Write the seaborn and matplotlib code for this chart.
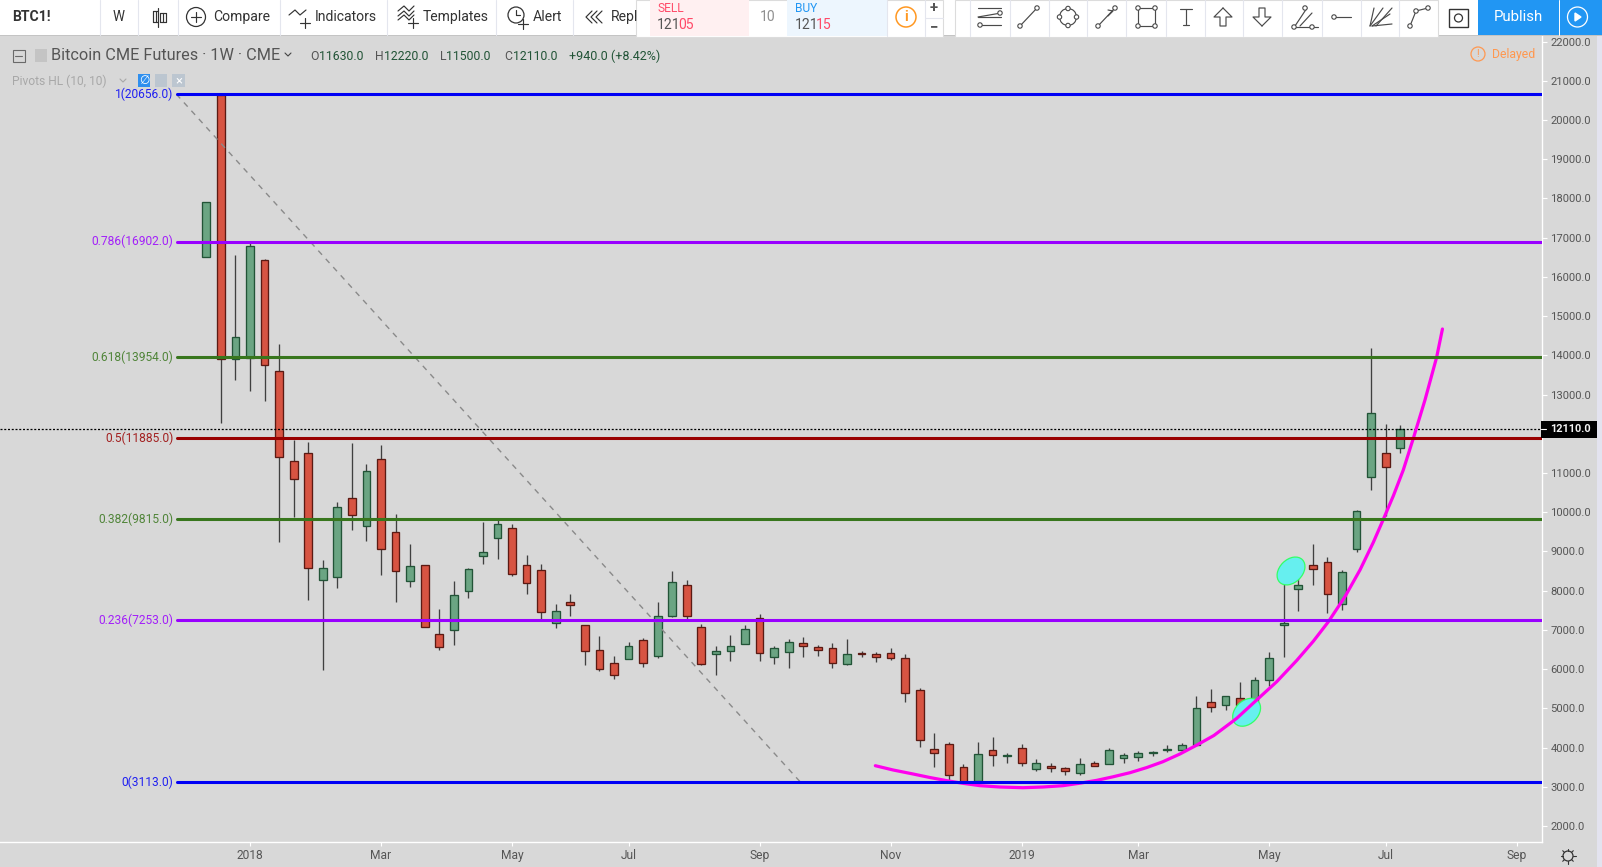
"""Bitcoin CME Futures, weekly candles with Fibonacci levels (TradingView screen)."""
import matplotlib
matplotlib.use('Agg')
import matplotlib.pyplot as plt
import numpy as np
import pandas as pd
import seaborn as sns
from matplotlib.collections import EllipseCollection
from matplotlib.patches import Circle, Rectangle

# -----------------------------------------------------
# DATA
# -----------------------------------------------------
opens = [16515, 20650, 13900, 13930, 16420, 13590, 11300, 11500, 8280, 8360, 10360, 9660, 11350, 9490, 8250,
         8650, 6890, 7000, 8000, 8890, 9350, 9590, 8650, 8520, 7180, 7700, 7120, 6480, 6150, 6270,
         6740, 6340, 7360, 8140, 7070, 6390, 6470, 6650, 7300, 6320, 6440, 6660, 6560, 6530, 6140,
         6400, 6380, 6400, 6280, 5480, 3960, 4080, 3500, 3150, 3930, 3790, 3980, 3460, 3530, 3470,
         3360, 3600, 3590, 3740, 3770, 3870, 3950, 3950, 4070, 5150, 5090, 5260, 5080, 5730, 7130,
         8050, 8650, 8720, 7670, 9050, 10910, 11500, 11630]
highs = [17900, 20650, 16560, 16860, 16460, 14290, 11840, 11790, 8780, 10260, 11760, 11230, 11710, 9960, 9190,
         8650, 7530, 8250, 8580, 9750, 9850, 9700, 8910, 8680, 7660, 7920, 7120, 6840, 6330, 6690,
         6790, 7710, 8490, 8270, 7150, 6580, 6870, 7120, 7400, 6580, 6770, 6820, 6610, 6670, 6770,
         6460, 6440, 6540, 6380, 5520, 4370, 4140, 3580, 4140, 4270, 3860, 4090, 3710, 3610, 3500,
         3730, 3660, 3990, 3860, 3910, 3910, 4060, 4120, 5310, 5490, 5310, 5670, 5800, 6440, 8440,
         8370, 9190, 8850, 8520, 10060, 14190, 12250, 12220]
lows = [16515, 12280, 13380, 13100, 12840, 9240, 9890, 7760, 5990, 8070, 9550, 9270, 8400, 7710, 8090,
        7080, 6490, 6620, 7810, 8680, 8810, 8370, 7920, 7270, 7050, 7350, 6100, 5950, 5750, 6270,
        6050, 6290, 7330, 7270, 6100, 5850, 6210, 6650, 6210, 6130, 6030, 6310, 6330, 6030, 6100,
        6310, 6180, 6230, 5160, 4010, 3500, 3140, 3120, 3140, 3540, 3610, 3530, 3400, 3380, 3300,
        3300, 3540, 3590, 3610, 3660, 3790, 3890, 3890, 4070, 4910, 4960, 4930, 5080, 5570, 6320,
        7490, 8140, 7440, 7510, 8990, 10570, 9900, 11500]
closes = [17900, 13900, 14460, 16800, 13760, 11420, 10860, 8590, 8570, 10130, 9940, 11040, 9050, 8510, 8620,
          7080, 6570, 7880, 8550, 8980, 9690, 8430, 8200, 7460, 7470, 7640, 6470, 6010, 5860, 6580,
          6160, 7350, 8210, 7360, 6140, 6450, 6580, 7020, 6420, 6530, 6680, 6600, 6500, 6160, 6380,
          6380, 6320, 6290, 5400, 4180, 3870, 3310, 3130, 3830, 3820, 3810, 3610, 3600, 3490, 3410,
          3570, 3540, 3930, 3800, 3850, 3890, 3960, 4060, 5000, 5040, 5310, 5090, 5720, 6280, 7170,
          8140, 8560, 7920, 8470, 10020, 12520, 11160, 12110]

fib_ratios = ['1', '0.786', '0.618', '0.5', '0.382', '0.236', '0']
fib_prices = [20656.0, 16902.0, 13954.0, 11885.0, 9815.0, 7253.0, 3113.0]
fib_colors = ['#0000f5', '#9900ff', '#38761d', '#990000', '#38761d', '#9900ff', '#0000f5']

# weekly bars: 0 is the week of 2017-12-11
month_bars = [3, 12, 21, 29, 38, 47, 56, 64, 73, 81, 90]
month_labels = ['2018', 'Mar', 'May', 'Jul', 'Sep', 'Nov', '2019', 'Mar', 'May', 'Jul', 'Sep']
price_ticks = list(range(2000, 22001, 1000))

trend_bars = [-2.05, 40.82]
trend_prices = [20656, 3113]

curve_bars = [45.95, 47.17, 48.54, 49.7, 50.87, 51.97, 53.14, 54.5, 56.09, 57.46, 58.84, 60.0, 61.17, 62.27,
              63.44, 64.6, 65.7, 66.87, 68.04, 69.2, 70.3, 70.77, 72.14, 73.52, 74.89, 76.03, 77.06, 78.21,
              79.24, 80.15, 80.84, 81.53, 82.21, 82.9, 83.7, 84.5, 84.9]
curve_prices = [3537, 3428, 3326, 3236, 3155, 3088, 3028, 2994, 2976, 2994, 3028, 3091, 3165, 3254,
                3359, 3491, 3639, 3836, 4065, 4307, 4613, 4745, 5212, 5680, 6220, 6710, 7205, 7850,
                8530, 9230, 9819, 10420, 11076, 11884, 12861, 13949, 14672]

marker_bars = [74.5, 71.45]
marker_prices = [8502, 4899]

last_price = 12110

W, H = 1602, 867
BG = '#d8d8d8'
UP, UP_EDGE = '#6ba583', '#225437'
DOWN, DOWN_EDGE = '#d75442', '#5b1a13'
WICK = '#404040'
TXT = '#555555'
BAR_PX = 14.56
FIRST_BAR_PX = 206.3
AXIS_X, AXIS_Y = 1541.5, 841.5
TOP_Y = 36


def px(size):
    """Font size in points from a size in pixels (dpi 100)."""
    return size * 0.72


# -----------------------------------------------------
# CHART
# -----------------------------------------------------

def draw_candles(ax, df):
    ax.vlines(df['bar'], df['low'], df['high'], color=WICK, linewidth=0.95, zorder=1)
    for rising, face, edge in [(True, UP, UP_EDGE), (False, DOWN, DOWN_EDGE)]:
        sub = df[(df['close'] >= df['open']) == rising]
        base = sub[['open', 'close']].min(axis=1)
        sns.barplot(x=sub['bar'], y=(sub['close'] - sub['open']).abs(), bottom=base, native_scale=True,
                    width=0.53, color=face, saturation=1, edgecolor=edge, linewidth=0.95,
                    errorbar=None, zorder=2, ax=ax)


def draw_levels(ax):
    start = (176.7 - FIRST_BAR_PX) / BAR_PX
    end = (AXIS_X - FIRST_BAR_PX) / BAR_PX
    for ratio, price, color in zip(fib_ratios, fib_prices, fib_colors):
        sns.lineplot(x=[start, end], y=[price, price], color=color, linewidth=2.2, zorder=5, ax=ax)
        ax.annotate(f'{ratio}({price:.1f})', xy=(start, price), xytext=(-2.2, 0), textcoords='offset points',
                    ha='right', va='center', color=color, fontsize=px(12), alpha=0.85)
    sns.lineplot(x=trend_bars, y=trend_prices, color='#8a8a8a', linewidth=1, linestyle=(0, (4, 4)),
                 zorder=4, ax=ax)
    ax.axhline(last_price, color='black', linewidth=0.9, linestyle=(0, (1.6, 1.4)), zorder=3)


def draw_annotations(ax):
    ax.add_collection(EllipseCollection(
        [32 * 0.72] * 2, [23 * 0.72] * 2, [45] * 2, units='points',
        offsets=np.column_stack([marker_bars, marker_prices]), offset_transform=ax.transData,
        facecolors='#66efef', edgecolors='#33ff66', linewidths=0.9, zorder=3.5))
    sns.lineplot(x=curve_bars, y=curve_prices, sort=False, errorbar=None, color='#ff00ee', linewidth=2.3,
                 zorder=4.5, ax=ax)


# -----------------------------------------------------
# SCREEN AROUND THE CHART (in pixels)
# -----------------------------------------------------

def rect(ui, x0, y0, x1, y1, color, z=1, **kw):
    ui.add_patch(Rectangle((x0, y0), x1 - x0, y1 - y0, facecolor=color, edgecolor=kw.pop('edge', 'none'),
                           linewidth=kw.pop('lw', 0.8), zorder=z, **kw))


def label(ui, x, y, s, size=13, color='#333333', ha='left', weight='normal', z=5):
    ui.text(x, y, s, fontsize=px(size), color=color, ha=ha, va='center', fontweight=weight, zorder=z)


def glyph(ui, lines, nodes=(), color='#4a4a4a', lw=0.85, z=5):
    for seg in lines:
        ui.plot(seg[0], seg[1], color=color, linewidth=lw, zorder=z, solid_capstyle='round')
    for (x, y) in nodes:
        ui.add_patch(Circle((x, y), 2.2, facecolor='white', edgecolor=color, linewidth=0.8, zorder=z + 1))


def draw_toolbar(ui):
    rect(ui, 0, 0, W, 35, 'white')
    rect(ui, 0, 35, W, 36, '#c4c4c4', z=1.5)
    for x in [100, 138, 177.5, 280, 387, 496, 573]:
        ui.plot([x, x], [0, 35], color='#e4e6ee', linewidth=0.8, zorder=2)
    label(ui, 12, 17, 'BTC1!', 14, weight='bold')
    label(ui, 119, 17, 'W', 13.5, ha='center')
    label(ui, 213, 17, 'Compare', 14)
    label(ui, 315, 17, 'Indicators', 14)
    label(ui, 423, 17, 'Templates', 14)
    label(ui, 533, 17, 'Alert', 14)
    label(ui, 611, 17, 'Repl', 14)

    # left icons
    glyph(ui, [([158, 158], [8, 27]), ([153, 153], [11, 22]), ([153, 158], [11, 11]), ([153, 158], [22, 22]),
               ([163, 163], [13, 22]), ([160, 166], [13, 13]), ([160, 166], [22, 22]), ([160, 160], [13, 22]),
               ([166, 166], [13, 22]), ([156, 156], [11, 22])], color='#333333')
    ui.add_patch(Circle((196, 17), 9.5, facecolor='none', edgecolor='#333333', linewidth=0.9, zorder=5))
    glyph(ui, [([191, 201], [17, 17]), ([196, 196], [12, 22])], color='#333333')
    glyph(ui, [([289, 295, 300, 306], [15, 10, 15, 10]), ([300, 310], [23, 23]), ([305, 305], [18, 28])],
          color='#333333')
    glyph(ui, [([398, 404, 409, 414], [11, 6, 11, 6]), ([398, 404, 409, 414], [16, 11, 16, 11]),
               ([398, 404, 409, 414], [20, 15, 20, 15]), ([408, 418], [23, 23]), ([413, 413], [18, 28])],
          color='#333333')
    ui.add_patch(Circle((516, 15), 8, facecolor='none', edgecolor='#333333', linewidth=0.9, zorder=5))
    glyph(ui, [([516, 516, 520], [10, 15, 15]), ([518, 528], [24, 24]), ([523, 523], [19, 29])], color='#333333')
    glyph(ui, [([592, 586, 592], [11, 17, 23]), ([597, 591, 597], [11, 17, 23]), ([602, 596, 602], [11, 17, 23])],
          color='#333333')

    # buy and sell panel
    rect(ui, 636, 0, 943, 36.5, 'white', z=3, edge='#dcdcdc')
    rect(ui, 650, 0, 749, 36, '#fff0f1', z=3.1)
    rect(ui, 787, 0, 887, 36, '#edf6fe', z=3.1)
    label(ui, 657, 9, 'SELL', 12, '#ff4a68')
    label(ui, 657, 25, '121', 14, '#555555')
    label(ui, 678, 25, '05', 14, '#ff4a68')
    label(ui, 768, 17, '10', 14, '#909090', ha='center')
    label(ui, 795, 9, 'BUY', 12, '#2196f3')
    label(ui, 795, 25, '121', 14, '#555555')
    label(ui, 816, 25, '15', 14, '#ff4a68')
    ui.add_patch(Circle((906, 17), 10, facecolor='none', edgecolor='#ff9822', linewidth=1.1, zorder=5))
    label(ui, 906, 17, 'i', 14, '#ff9822', ha='center', weight='bold')
    ui.plot([887, 887], [0, 36], color='#e4e6ee', linewidth=0.8, zorder=4)
    ui.plot([925, 925], [0, 36], color='#e4e6ee', linewidth=0.8, zorder=4)
    ui.plot([925, 943], [17.5, 17.5], color='#e4e6ee', linewidth=0.8, zorder=4)
    label(ui, 934, 8, '+', 15, '#555555', ha='center', weight='bold')
    label(ui, 934, 27, '\u2212', 15, '#555555', ha='center', weight='bold')

    # drawing tools panel
    rect(ui, 955, 0, 1438, 36.5, 'white', z=3, edge='#dcdcdc')
    for x in [970, 1010, 1049, 1087, 1126, 1166, 1205, 1243, 1282, 1322, 1361, 1399]:
        ui.plot([x, x], [0, 36], color='#e4e6ee', linewidth=0.8, zorder=4)
    glyph(ui, [([978, 1001], [8, 8]), ([978, 1001], [17, 13]), ([978, 1001], [17, 17]), ([978, 1001], [25, 25])],
          [(1000, 13), (980, 25)])
    glyph(ui, [([1020, 1037], [26, 8])], [(1020, 26), (1037, 8)])
    ui.add_patch(Circle((1068, 17), 8.5, facecolor='none', edgecolor='#4a4a4a', linewidth=0.85, zorder=5))
    glyph(ui, [], [(1068, 8.5), (1068, 25.5), (1059.5, 17), (1076.5, 17)])
    glyph(ui, [([1098, 1115], [26, 8])], [(1098, 26), (1115, 8)])
    glyph(ui, [([1108, 1113, 1108], [10, 11, 16])])
    glyph(ui, [([1138, 1155, 1155, 1138, 1138], [8, 8, 26, 26, 8])], [(1138, 8), (1155, 8), (1155, 26), (1138, 26)])
    glyph(ui, [([1180, 1192], [9, 9]), ([1186, 1186], [9, 25]), ([1183, 1189], [25, 25])])
    glyph(ui, [([1223, 1214, 1220, 1220, 1226, 1226, 1232, 1223], [8, 17, 17, 26, 26, 17, 17, 8])])
    glyph(ui, [([1262, 1253, 1259, 1259, 1265, 1265, 1271, 1262], [26, 17, 17, 8, 8, 17, 17, 26])])
    glyph(ui, [([1295, 1307], [26, 8]), ([1300, 1312], [26, 13]), ([1292, 1318], [27, 27])],
          [(1294, 27), (1312, 27), (1305, 8)])
    glyph(ui, [([1334, 1351], [17, 17])], [(1334, 17)])
    glyph(ui, [([1370, 1383], [26, 8]), ([1372, 1390], [26, 14]), ([1372, 1392], [26, 24]),
               ([1370, 1374], [26, 8]), ([1376, 1392], [26, 8])])
    glyph(ui, [([1410, 1416, 1428], [26, 11, 8])], [(1410, 26), (1416, 11), (1428, 8)])
    # camera and publish
    rect(ui, 1449, 9, 1468, 27, 'none', edge='#333333', lw=1)
    ui.add_patch(Circle((1458.5, 18), 4, facecolor='none', edgecolor='#333333', linewidth=0.9, zorder=5))
    rect(ui, 1478, 0, 1602, 35, '#2196f3', z=2)
    ui.plot([1558.5, 1558.5], [0, 35], color='white', linewidth=0.7, zorder=3)
    label(ui, 1518, 17, 'Publish', 15, 'white', ha='center', z=4)
    ui.add_patch(Circle((1577.5, 17), 10, facecolor='none', edgecolor='white', linewidth=0.9, zorder=4))
    ui.fill([1575, 1575, 1581], [13, 21, 17], color='white', zorder=4)


def draw_legend(ui):
    rect(ui, 12.5, 49.5, 24.5, 61.5, 'none', edge='#6a6a6a', lw=0.8)
    ui.plot([15, 22], [55.5, 55.5], color='#6a6a6a', linewidth=0.8, zorder=5)
    rect(ui, 35, 49, 47, 62, '#c4c4c4')
    label(ui, 51, 56, 'Bitcoin CME Futures \u00b7 1W \u00b7 CME', 16.2, '#555555')
    glyph(ui, [([285, 288, 291], [53, 56, 53])], color='#444444', lw=0.8)
    for x, letter, value in [(310, 'O', '11630.0'), (375, 'H', '12220.0'), (440, 'L', '11500.0'),
                             (504, 'C', '12110.0')]:
        label(ui, x, 56, letter, 12.3, '#555555')
        label(ui, x + (6 if letter == 'L' else 9), 56, value, 12.3, UP_EDGE)
    label(ui, 569, 56, '+940.0 (+8.42%)', 12.5, UP_EDGE)

    label(ui, 12, 81, 'Pivots HL (10, 10)', 12, '#a8a8a8')
    glyph(ui, [([120, 123, 126], [79, 82, 79])], color='#a8a8a8', lw=0.8)
    rect(ui, 138, 74, 150, 87, '#2f8fee')
    label(ui, 144, 80.5, '\u2205', 12, 'white', ha='center')
    rect(ui, 155, 74, 167, 87, '#bcc6d0')
    rect(ui, 172, 74, 185, 87, '#bcc6d0')
    label(ui, 178.5, 80.5, '\u00d7', 13, 'white', ha='center')

    ui.add_patch(Circle((1478, 54), 7, facecolor='none', edgecolor='#ff9850', linewidth=0.9, zorder=5))
    label(ui, 1478, 54, '!', 10, '#ff9850', ha='center')
    label(ui, 1492, 54.5, 'Delayed', 12.3, '#ff9850')


def draw_scale_extras(ui):
    rect(ui, 1541, 421, 1597, 437.7, 'black', z=3)
    ui.plot([1541, 1546], [429.3, 429.3], color='white', linewidth=0.8, zorder=4)
    label(ui, 1550, 429.5, f'{last_price:.1f}', 11, '#f2f2f2', weight='bold')
    rect(ui, 1597, 36, W, H, '#e3e3ef', z=3)
    ui.add_patch(Circle((1568, 856), 5, facecolor='none', edgecolor='#333333', linewidth=0.9, zorder=5))
    for a in np.arange(0, 2 * np.pi, np.pi / 4):
        ui.plot([1568 + 5 * np.cos(a), 1568 + 7.5 * np.cos(a)], [856 + 5 * np.sin(a), 856 + 7.5 * np.sin(a)],
                color='#333333', linewidth=0.8, zorder=5)


# -----------------------------------------------------
# MAIN
# -----------------------------------------------------

def main():
    sns.set_theme(style='white')
    plt.rcParams['font.family'] = ['Roboto', 'DejaVu Sans']

    df = pd.DataFrame({'open': opens, 'high': highs, 'low': lows, 'close': closes})
    df['bar'] = np.arange(len(df))

    fig = plt.figure(figsize=(W / 100, H / 100), dpi=100, facecolor=BG)
    ax = fig.add_axes([0, (H - AXIS_Y) / H, AXIS_X / W, (AXIS_Y - TOP_Y) / H], facecolor=BG)

    draw_candles(ax, df)
    draw_levels(ax)
    draw_annotations(ax)

    ax.set_xlim(-FIRST_BAR_PX / BAR_PX, (AXIS_X - FIRST_BAR_PX) / BAR_PX)
    ax.set_ylim(20656 - (AXIS_Y - 94.3) * 25.497, 20656 + (94.3 - TOP_Y) * 25.497)
    ax.set_xlabel('')
    ax.set_ylabel('')
    ax.set_xticks(month_bars, month_labels)
    # the 12000 label sits under the last price tag, as on the screen
    ax.set_yticks(price_ticks, ['' if p == 12000 else f'{p:.1f}' for p in price_ticks])
    ax.yaxis.tick_right()
    ax.tick_params(axis='x', colors='white', labelcolor=TXT, labelsize=px(12), length=3, width=0.8, pad=2.5,
                   direction='out', bottom=True)
    ax.tick_params(axis='y', colors='white', labelcolor=TXT, labelsize=px(11.3), length=3.5, width=0.8, pad=3,
                   direction='out', right=True)
    ax.spines[['top', 'left']].set_visible(False)
    ax.spines[['right', 'bottom']].set_color('white')
    ax.spines[['right', 'bottom']].set_linewidth(1.0)

    ui = fig.add_axes([0, 0, 1, 1], facecolor='none')
    ui.set_xlim(0, W)
    ui.set_ylim(H, 0)
    ui.axis('off')
    draw_toolbar(ui)
    draw_legend(ui)
    draw_scale_extras(ui)

    fig.savefig('out.png', dpi=100, facecolor=BG)
    plt.close(fig)


main()
